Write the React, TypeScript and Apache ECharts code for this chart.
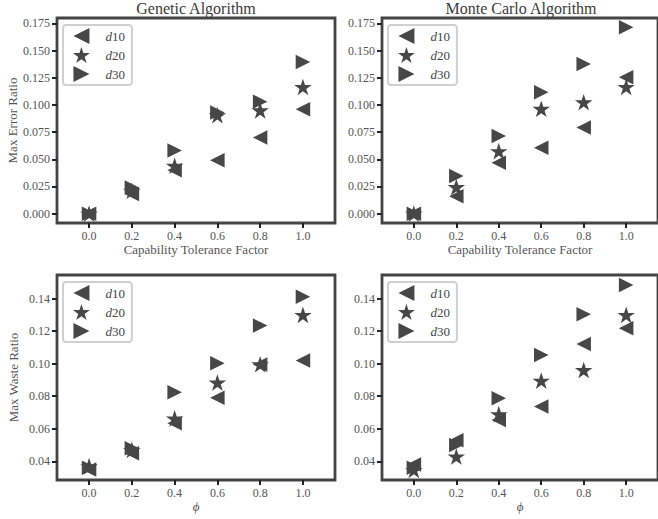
import React, { useEffect, useRef } from "react";
import * as echarts from "echarts";

const xValues = [0.0, 0.2, 0.4, 0.6, 0.8, 1.0];
const seriesNames = ["d10", "d20", "d30"];
const panelTitles = ["Genetic Algorithm", "Monte Carlo Algorithm"];
const xTicks = [0.0, 0.2, 0.4, 0.6, 0.8, 1.0];
const errorTicks = [0.0, 0.025, 0.05, 0.075, 0.1, 0.125, 0.15, 0.175];
const wasteTicks = [0.04, 0.06, 0.08, 0.1, 0.12, 0.14];

const gaError_d10 = [0.0, 0.018, 0.04, 0.049, 0.07, 0.096];
const gaError_d20 = [0.0, 0.021, 0.044, 0.0905, 0.095, 0.1165];
const gaError_d30 = [0.0, 0.024, 0.058, 0.093, 0.103, 0.1395];

const mcError_d10 = [0.0, 0.016, 0.0468, 0.0606, 0.0793, 0.1255];
const mcError_d20 = [0.0, 0.0245, 0.0575, 0.0964, 0.1025, 0.1166];
const mcError_d30 = [0.0, 0.0346, 0.0713, 0.1117, 0.1377, 0.1713];

const gaWaste_d10 = [0.035, 0.045, 0.0634, 0.0791, 0.0995, 0.1019];
const gaWaste_d20 = [0.037, 0.047, 0.0664, 0.0884, 0.0996, 0.13];
const gaWaste_d30 = [0.036, 0.048, 0.0824, 0.1002, 0.1234, 0.1412];

const mcWaste_d10 = [0.038, 0.053, 0.0654, 0.0736, 0.1121, 0.1218];
const mcWaste_d20 = [0.0347, 0.0429, 0.069, 0.0896, 0.0961, 0.13];
const mcWaste_d30 = [0.036, 0.05, 0.0787, 0.1054, 0.1304, 0.1484];

const FONT = "'Liberation Serif', 'DejaVu Serif', serif";
const MARK = "#474747";
const FRAME = "#444444";
const LABEL = "#555555";

const LEFT_TRI = "path://M0,5 L10,0 L10,10 Z";
const RIGHT_TRI = "path://M0,0 L10,5 L0,10 Z";
const STAR =
  "path://M0,-100 L22.45,-30.9 L95.11,-30.9 L36.33,11.8 L58.78,80.9 L0,38.2 L-58.78,80.9 L-36.33,11.8 L-95.11,-30.9 L-22.45,-30.9 Z";
const symbols = [LEFT_TRI, STAR, RIGHT_TRI];
const symbolSizes: any[] = [14.5, [17.5, 16.6], 14.5];

const panels = [
  { data: [gaError_d10, gaError_d20, gaError_d30] },
  { data: [mcError_d10, mcError_d20, mcError_d30] },
  { data: [gaWaste_d10, gaWaste_d20, gaWaste_d30] },
  { data: [mcWaste_d10, mcWaste_d20, mcWaste_d30] },
];

const gridLefts = [57, 382, 57, 382];
const gridTops = [18, 18, 275, 275];

export default function App() {
  const ref = useRef<HTMLDivElement>(null);
  useEffect(() => {
    if (!ref.current) return;
    const chart = echarts.init(ref.current, undefined, { renderer: "svg" });

    const grids = gridLefts.map((l, i) => ({
      left: l,
      top: gridTops[i],
      width: 278,
      height: 205,
      show: true,
      borderColor: FRAME,
      borderWidth: 2.8,
      backgroundColor: "transparent",
    }));

    const xAxes = [0, 1, 2, 3].map((i) => ({
      type: "value",
      gridIndex: i,
      position: "bottom",
      min: -0.15,
      max: 1.15,
      axisLine: { show: false, onZero: false },
      splitLine: { show: false },
      axisTick: {
        show: true,
        customValues: xTicks,
        length: 5,
        lineStyle: { color: "#222", width: 2 },
      },
      axisLabel: {
        customValues: xTicks,
        formatter: (v: number) => v.toFixed(1),
        margin: 7,
        fontSize: 12,
        fontFamily: FONT,
        color: LABEL,
      },
      name: i < 2 ? "Capability Tolerance Factor" : "ϕ",
      nameLocation: "middle",
      nameGap: i < 2 ? 19 : 20,
      nameTextStyle: {
        fontFamily: FONT,
        fontSize: 13,
        color: LABEL,
        fontStyle: i < 2 ? "normal" : "italic",
      },
    }));

    const yAxes = [0, 1, 2, 3].map((i) => {
      const isErr = i < 2;
      return {
        type: "value",
        gridIndex: i,
        position: "left",
        min: isErr ? -0.0086 : 0.0285,
        max: isErr ? 0.1799 : 0.1545,
        axisLine: { show: false, onZero: false },
        splitLine: { show: false },
        axisTick: {
          show: true,
          customValues: isErr ? errorTicks : wasteTicks,
          length: 5,
          lineStyle: { color: "#222", width: 2 },
        },
        axisLabel: {
          customValues: isErr ? errorTicks : wasteTicks,
          formatter: (v: number) => v.toFixed(isErr ? 3 : 2),
          margin: 7,
          fontSize: 12,
          fontFamily: FONT,
          color: LABEL,
        },
        name: i === 0 ? "Max Error Ratio" : i === 2 ? "Max Waste Ratio" : "",
        nameLocation: "middle",
        nameGap: 37,
        nameTextStyle: { fontFamily: FONT, fontSize: 13, color: LABEL },
      };
    });

    const series: any[] = [];
    panels.forEach((p, pi) => {
      p.data.forEach((arr, si) => {
        series.push({
          type: "scatter",
          name: seriesNames[si],
          xAxisIndex: pi,
          yAxisIndex: pi,
          symbol: symbols[si],
          symbolSize: symbolSizes[si],
          itemStyle: { color: MARK, opacity: 1 },
          emphasis: { disabled: true },
          data: xValues.map((x, k) => [x, arr[k]]),
        });
      });
    });

    const legends = [0, 1, 2, 3].map((i) => ({
      orient: "vertical",
      left: gridLefts[i] + 6,
      top: i < 2 ? 25 : 282,
      data: seriesNames,
      itemWidth: 38,
      itemHeight: 16,
      itemGap: 3,
      padding: [3, 7, 3, 10],
      backgroundColor: "#ffffff",
      borderColor: "#d0d0d0",
      borderWidth: 2,
      borderRadius: 3,
      selectedMode: false,
      formatter: (name: string) => `{i|d}{n|${name.slice(1)}}`,
      textStyle: {
        fontFamily: FONT,
        fontSize: 13,
        color: "#444",
        rich: {
          i: { fontFamily: FONT, fontSize: 13, fontStyle: "italic", color: "#444" },
          n: { fontFamily: FONT, fontSize: 13, color: "#444" },
        },
      },
    }));

    const titles = panelTitles.map((t, i) => ({
      text: t,
      left: gridLefts[i] + 139,
      top: 0,
      padding: 0,
      textAlign: "center",
      textStyle: { fontFamily: FONT, fontSize: 16, fontWeight: "normal", color: "#3a3a3a" },
    }));

    chart.setOption({
      animation: false,
      backgroundColor: "#ffffff",
      title: titles,
      grid: grids,
      xAxis: xAxes,
      yAxis: yAxes,
      legend: legends,
      series,
    });
    return () => chart.dispose();
  }, []);
  return (
    <div
      ref={ref}
      style={{ position: "fixed", left: 0, top: 0, width: 658, height: 519 }}
    />
  );
}
